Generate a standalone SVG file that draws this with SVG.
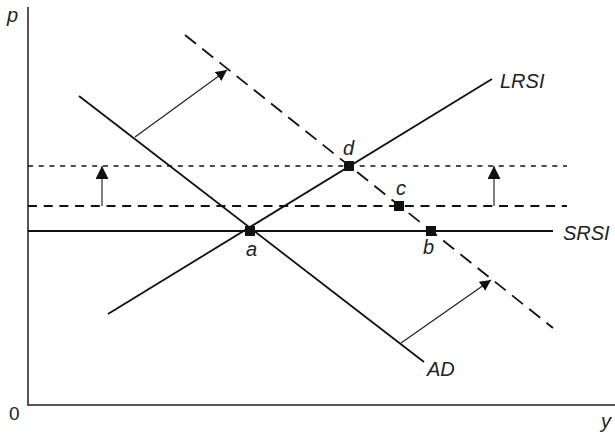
<svg xmlns="http://www.w3.org/2000/svg" width="615" height="433" viewBox="0 0 615 433">
<defs>
<marker id="ah" viewBox="0 0 10 10" refX="10" refY="5" markerWidth="11" markerHeight="11" markerUnits="userSpaceOnUse" orient="auto">
<path d="M0,0 L10,5 L0,10 z" fill="#111"/>
</marker>
<marker id="ahv" viewBox="0 0 10 10" refX="10" refY="5" markerWidth="13" markerHeight="13" markerUnits="userSpaceOnUse" orient="auto">
<path d="M0,0 L10,5 L0,10 z" fill="#111"/>
</marker>
</defs>
<style>
.ax{stroke:#555;stroke-width:2;fill:none}
.ln{stroke:#111;stroke-width:1.8;fill:none}
.dash{stroke:#111;stroke-width:1.8;fill:none;stroke-dasharray:9,6.7}
.dot{stroke:#111;stroke-width:1.6;fill:none;stroke-dasharray:5,5.7}
.ddash{stroke:#111;stroke-width:1.8;fill:none;stroke-dasharray:14,8}
.arr{stroke:#222;stroke-width:1.2;fill:none}
.arrv{stroke:#555;stroke-width:1.5;fill:none}
.pt{fill:#111}
text{font-family:"Liberation Sans",Arial,sans-serif;font-size:20px;font-style:italic;fill:#222}
.up{font-style:normal;font-size:19px}
</style>
<g id="axes">
<path class="ax" d="M28,7 V405 H615"/>
<text x="7" y="22">p</text>
<text class="up" x="9" y="420">0</text>
<text x="601" y="428">y</text>
</g>
<g id="connectors">
<line id="SRSI-line" class="ln" x1="28" y1="231" x2="553" y2="231"/>
<line id="SRSI2-line" class="dash" x1="28" y1="206" x2="567" y2="206"/>
<line id="SRSI3-line" class="dot" x1="28" y1="166" x2="567" y2="166"/>
<line id="LRSI-line" class="ln" x1="108" y1="314" x2="492" y2="79"/>
<line id="AD-line" class="ln" x1="79" y1="96" x2="424" y2="362"/>
<line id="AD2-line" class="ddash" x1="185" y1="35" x2="553" y2="328"/>
<line class="arr" x1="135" y1="137" x2="227" y2="70" marker-end="url(#ah)"/>
<line class="arr" x1="401" y1="343" x2="491" y2="280" marker-end="url(#ah)"/>
<line class="arrv" x1="102" y1="206" x2="102" y2="166" marker-end="url(#ahv)"/>
<line class="arrv" x1="494" y1="206" x2="494" y2="166" marker-end="url(#ahv)"/>
</g>
<g id="a"><rect class="pt" x="245" y="226" width="10" height="10"/><text x="246" y="256">a</text></g>
<g id="b"><rect class="pt" x="426" y="226" width="10" height="10"/><text x="423" y="254">b</text></g>
<g id="c"><rect class="pt" x="394" y="201" width="10" height="10"/><text x="396" y="195">c</text></g>
<g id="d"><rect class="pt" x="344" y="161" width="10" height="10"/><text x="343" y="155">d</text></g>
<g id="LRSI"><text x="500" y="88">LRSI</text></g>
<g id="SRSI"><text x="563" y="240">SRSI</text></g>
<g id="AD"><text x="427" y="376">AD</text></g>
</svg>
